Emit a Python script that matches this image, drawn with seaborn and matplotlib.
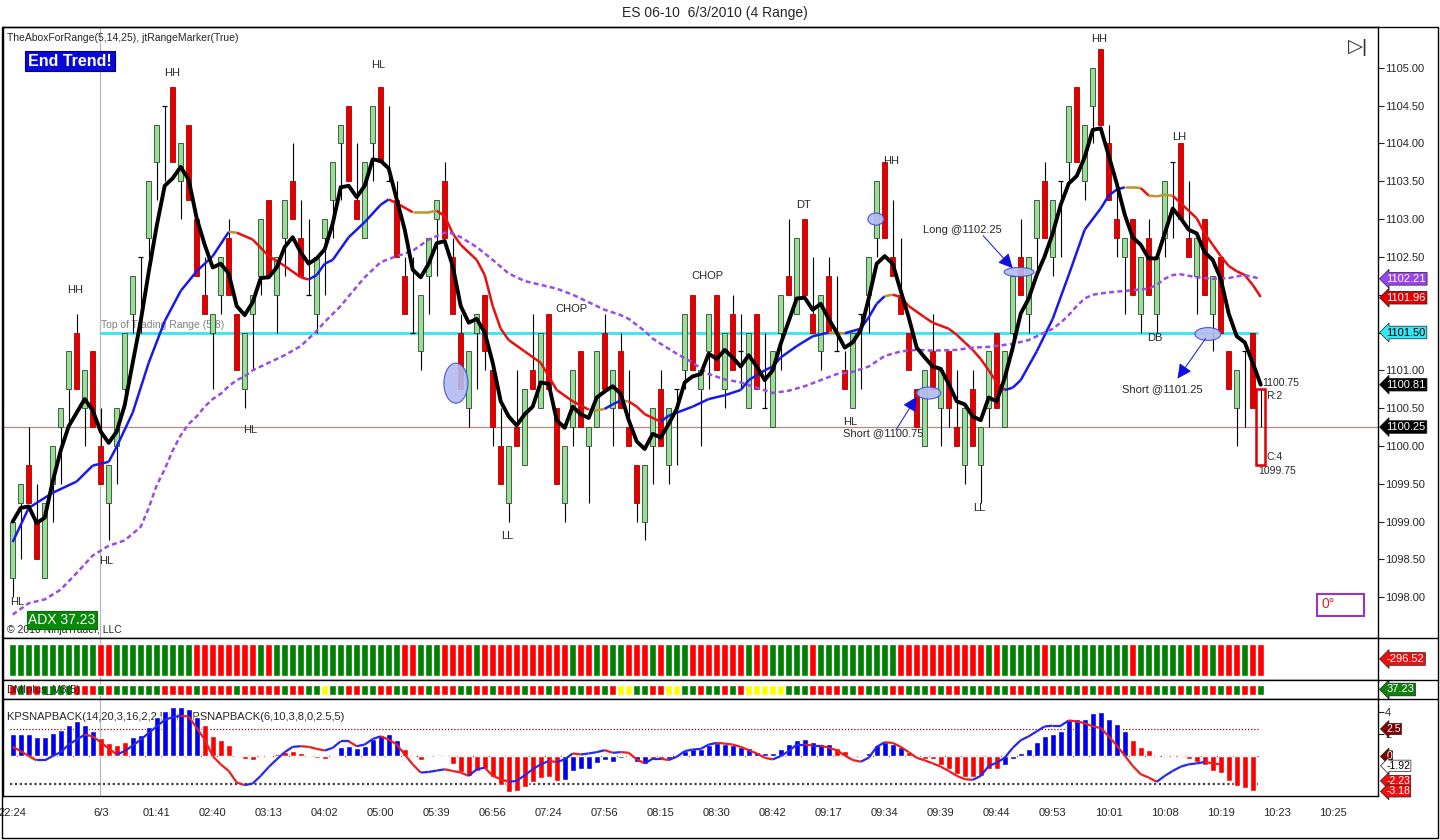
import numpy as np
import matplotlib
matplotlib.use("Agg")
import matplotlib.pyplot as plt
import seaborn as sns
from matplotlib.collections import LineCollection
from matplotlib.patches import Ellipse, Rectangle
from matplotlib.lines import Line2D

# ---------------- data ----------------
opens = [
    1098.25, 1099.25, 1099.75, 1099.00, 1098.25, 1099.50, 1100.25, 1100.75, 1101.50, 1100.50,
    1101.25, 1100.00, 1099.25, 1100.00, 1100.75, 1101.75, 1102.50, 1102.75, 1103.75, 1104.50,
    1104.75, 1103.50, 1104.25, 1103.00, 1102.00, 1101.50, 1102.00, 1102.75, 1101.75, 1100.75,
    1101.75, 1102.25, 1103.25, 1102.00, 1102.75, 1103.50, 1102.75, 1102.00, 1101.75, 1102.75,
    1103.25, 1104.00, 1104.50, 1103.25, 1102.75, 1104.00, 1104.75, 1103.50, 1103.25, 1102.25,
    1101.50, 1101.25, 1102.25, 1103.00, 1103.50, 1102.50, 1101.50, 1100.50, 1101.50, 1102.00,
    1101.00, 1100.00, 1099.25, 1100.25, 1099.75, 1101.00, 1100.50, 1101.75, 1100.50, 1099.25,
    1100.25, 1101.25, 1100.00, 1100.25, 1101.50, 1100.50, 1101.25, 1100.25, 1099.75, 1099.00,
    1100.00, 1100.75, 1099.75, 1100.75, 1101.00, 1102.00, 1100.75, 1101.25, 1102.00, 1100.75,
    1101.75, 1101.25, 1100.50, 1101.75, 1100.50, 1100.25, 1101.50, 1102.25, 1101.75, 1103.00,
    1101.75, 1101.25, 1102.25, 1101.25, 1101.00, 1100.50, 1101.75, 1102.00, 1102.75, 1103.75,
    1102.50, 1102.00, 1101.50, 1100.75, 1100.00, 1101.25, 1100.50, 1101.25, 1100.25, 1099.75,
    1100.75, 1099.75, 1100.50, 1101.50, 1100.25, 1101.50, 1102.50, 1101.75, 1102.75, 1103.50,
    1102.50, 1103.50, 1103.75, 1104.75, 1103.50, 1104.50, 1105.25, 1104.00, 1103.00, 1102.50,
    1103.00, 1101.75, 1102.75, 1101.75, 1102.75, 1103.75, 1104.00, 1102.75, 1102.25, 1103.00,
    1101.75, 1102.50, 1101.25, 1100.50, 1101.25, 1101.50, 1100.75,
]
highs = [
    1099.00, 1099.50, 1100.25, 1099.50, 1099.25, 1100.00, 1100.50, 1101.25, 1101.75, 1101.00,
    1101.25, 1100.50, 1099.75, 1100.50, 1101.50, 1102.25, 1102.50, 1103.50, 1104.25, 1104.50,
    1104.75, 1104.00, 1104.25, 1103.00, 1102.50, 1101.75, 1102.50, 1103.00, 1101.75, 1101.50,
    1102.00, 1103.00, 1103.25, 1102.50, 1103.25, 1104.00, 1103.25, 1103.00, 1102.50, 1103.00,
    1103.75, 1104.25, 1104.50, 1104.00, 1103.75, 1104.50, 1104.75, 1104.50, 1103.50, 1102.50,
    1102.50, 1102.00, 1102.75, 1103.25, 1103.75, 1102.75, 1101.75, 1101.25, 1101.75, 1102.00,
    1101.00, 1100.50, 1100.00, 1101.00, 1100.75, 1101.75, 1101.50, 1101.75, 1100.50, 1100.00,
    1101.00, 1101.25, 1100.25, 1101.25, 1101.75, 1101.00, 1101.50, 1101.00, 1099.75, 1099.75,
    1100.50, 1101.00, 1100.50, 1100.75, 1101.75, 1102.00, 1101.00, 1101.75, 1102.00, 1101.50,
    1102.00, 1101.75, 1101.50, 1101.75, 1101.50, 1101.25, 1102.00, 1103.00, 1102.75, 1103.00,
    1102.50, 1102.00, 1102.50, 1102.25, 1101.25, 1101.50, 1101.75, 1102.50, 1103.50, 1103.75,
    1103.25, 1102.75, 1101.50, 1100.75, 1101.00, 1101.75, 1101.00, 1101.25, 1101.00, 1100.50,
    1101.00, 1100.25, 1101.25, 1101.50, 1101.25, 1102.25, 1103.00, 1102.50, 1103.25, 1103.75,
    1103.25, 1103.50, 1104.50, 1104.75, 1104.25, 1105.00, 1105.25, 1104.25, 1103.50, 1102.75,
    1103.00, 1102.50, 1103.00, 1102.50, 1103.50, 1103.75, 1104.00, 1103.50, 1102.75, 1103.00,
    1102.25, 1102.50, 1101.25, 1101.00, 1101.25, 1101.50, 1100.75,
]
lows = [
    1098.00, 1098.50, 1099.25, 1098.50, 1098.25, 1099.00, 1099.50, 1100.25, 1100.75, 1100.00,
    1100.25, 1099.50, 1098.75, 1099.50, 1100.50, 1101.50, 1101.50, 1102.50, 1103.25, 1103.50,
    1103.75, 1103.00, 1103.25, 1102.25, 1101.75, 1100.75, 1101.75, 1102.00, 1101.00, 1100.50,
    1101.00, 1102.00, 1102.25, 1101.50, 1102.25, 1103.00, 1102.25, 1102.00, 1101.50, 1102.00,
    1102.75, 1103.25, 1103.50, 1103.00, 1102.75, 1103.50, 1103.75, 1103.50, 1102.50, 1101.75,
    1101.50, 1101.00, 1101.75, 1102.25, 1102.75, 1101.75, 1100.75, 1100.25, 1100.75, 1101.00,
    1100.00, 1099.50, 1099.00, 1100.00, 1099.75, 1100.75, 1100.50, 1100.75, 1099.50, 1099.00,
    1100.00, 1100.25, 1099.25, 1100.25, 1100.75, 1100.00, 1100.50, 1100.00, 1099.00, 1098.75,
    1099.50, 1100.00, 1099.50, 1099.75, 1100.75, 1101.00, 1100.00, 1100.75, 1101.00, 1100.50,
    1101.00, 1100.75, 1100.50, 1100.75, 1100.50, 1100.25, 1101.00, 1102.00, 1101.75, 1102.00,
    1101.50, 1101.00, 1101.50, 1101.25, 1100.75, 1100.50, 1100.75, 1101.50, 1102.50, 1102.75,
    1102.25, 1101.75, 1101.00, 1100.25, 1100.00, 1100.75, 1100.00, 1100.25, 1100.00, 1099.50,
    1100.00, 1099.25, 1100.25, 1100.50, 1100.25, 1101.25, 1102.00, 1101.50, 1102.25, 1102.75,
    1102.25, 1102.50, 1103.50, 1103.75, 1103.25, 1104.00, 1104.25, 1103.25, 1102.50, 1101.75,
    1102.00, 1101.50, 1102.00, 1101.50, 1102.50, 1102.75, 1103.00, 1102.50, 1101.75, 1102.00,
    1101.25, 1101.50, 1100.75, 1100.00, 1100.25, 1100.50, 1100.25,
]
closes = [
    1099.00, 1099.50, 1099.25, 1098.50, 1099.25, 1100.00, 1100.50, 1101.25, 1100.75, 1101.00,
    1100.25, 1099.50, 1099.75, 1100.50, 1101.50, 1102.25, 1102.50, 1103.50, 1104.25, 1104.50,
    1103.75, 1104.00, 1103.25, 1102.25, 1101.75, 1101.75, 1102.50, 1102.00, 1101.00, 1101.50,
    1102.00, 1103.00, 1102.25, 1102.50, 1103.25, 1103.00, 1102.25, 1102.00, 1102.50, 1103.00,
    1103.75, 1104.25, 1103.50, 1103.00, 1103.75, 1104.50, 1103.75, 1103.50, 1102.50, 1101.75,
    1101.50, 1102.00, 1102.75, 1103.25, 1102.75, 1101.75, 1100.75, 1101.25, 1101.75, 1101.25,
    1100.25, 1099.50, 1100.00, 1100.00, 1100.75, 1100.75, 1101.50, 1100.75, 1099.50, 1100.00,
    1101.00, 1100.25, 1100.25, 1101.25, 1100.75, 1101.00, 1100.50, 1100.00, 1099.25, 1099.75,
    1100.50, 1100.00, 1100.50, 1100.75, 1101.75, 1101.00, 1101.00, 1101.75, 1101.00, 1101.50,
    1101.00, 1101.25, 1101.50, 1100.75, 1100.50, 1101.25, 1102.00, 1102.00, 1102.75, 1102.00,
    1101.50, 1102.00, 1101.50, 1101.25, 1100.75, 1101.50, 1101.75, 1102.50, 1103.50, 1102.75,
    1102.25, 1101.75, 1101.00, 1100.25, 1101.00, 1100.75, 1101.00, 1100.50, 1100.00, 1100.50,
    1100.00, 1100.25, 1101.25, 1100.50, 1101.25, 1102.25, 1102.00, 1102.50, 1103.25, 1102.75,
    1103.25, 1103.50, 1104.50, 1103.75, 1104.25, 1105.00, 1104.25, 1103.25, 1102.75, 1102.75,
    1102.00, 1102.50, 1102.00, 1102.50, 1103.50, 1103.75, 1103.00, 1102.50, 1102.75, 1102.00,
    1102.25, 1101.50, 1100.75, 1101.00, 1101.25, 1100.50, 1100.25,
]

# fast average (black)
fast_ma = [
    1099.00, 1099.18, 1099.20, 1098.98, 1099.05, 1099.53, 1099.94, 1100.26, 1100.44, 1100.62,
    1100.47, 1100.19, 1100.04, 1100.19, 1100.54, 1101.10, 1101.65, 1102.30, 1102.91, 1103.44,
    1103.54, 1103.69, 1103.52, 1103.01, 1102.66, 1102.36, 1102.41, 1102.28, 1101.85, 1101.73,
    1101.90, 1102.22, 1102.23, 1102.36, 1102.63, 1102.76, 1102.56, 1102.41, 1102.48, 1102.60,
    1102.94, 1103.42, 1103.44, 1103.29, 1103.44, 1103.79, 1103.77, 1103.67, 1103.26, 1102.86,
    1102.33, 1102.23, 1102.41, 1102.68, 1102.71, 1102.38, 1101.85, 1101.63, 1101.68, 1101.50,
    1101.10, 1100.59, 1100.39, 1100.27, 1100.42, 1100.52, 1100.84, 1100.82, 1100.34, 1100.24,
    1100.52, 1100.42, 1100.37, 1100.64, 1100.72, 1100.79, 1100.69, 1100.34, 1100.06, 1099.96,
    1100.16, 1100.11, 1100.29, 1100.49, 1100.84, 1100.92, 1100.95, 1101.22, 1101.15, 1101.27,
    1101.17, 1101.05, 1101.20, 1101.05, 1100.87, 1101.00, 1101.35, 1101.65, 1101.95, 1101.96,
    1101.80, 1101.88, 1101.68, 1101.50, 1101.30, 1101.37, 1101.53, 1101.95, 1102.41, 1102.51,
    1102.41, 1102.05, 1101.70, 1101.30, 1101.17, 1101.05, 1101.02, 1100.82, 1100.59, 1100.55,
    1100.39, 1100.34, 1100.64, 1100.59, 1100.90, 1101.30, 1101.75, 1101.95, 1102.26, 1102.51,
    1102.81, 1103.19, 1103.47, 1103.57, 1103.82, 1104.18, 1104.20, 1103.84, 1103.47, 1103.06,
    1102.76, 1102.66, 1102.48, 1102.48, 1102.81, 1103.14, 1103.01, 1102.86, 1102.81, 1102.56,
    1102.46, 1102.21, 1101.75, 1101.45, 1101.37, 1101.10, 1100.81,
]

# trend average (blue rising / red falling)
trend_bars = [
    0, 2, 5, 8, 10, 12, 13, 15, 17, 19, 21, 23, 25, 27, 28, 30, 32, 34, 36, 37,
    38, 39, 40, 42, 44, 46, 47, 48, 50, 52, 53, 54, 55, 56, 58, 59, 60, 61, 62, 64,
    66, 67, 68, 70, 72, 73, 74, 75, 76, 77, 78, 79, 81, 82, 83, 85, 87, 89, 91, 92,
    94, 95, 96, 98, 100, 102, 104, 106, 107, 108, 109, 110, 111, 112, 114, 115, 117, 118, 119, 120,
    121, 122, 123, 124, 125, 126, 128, 130, 132, 134, 136, 137, 138, 139, 140, 141, 142, 143, 144, 145,
    146, 147, 148, 149, 150, 151, 152, 153, 154, 155, 156,
]
trend_ma = [
    1098.73, 1099.18, 1099.38, 1099.53, 1099.74, 1099.79, 1099.99, 1100.44, 1101.10, 1101.65,
    1102.05, 1102.31, 1102.51, 1102.83, 1102.82, 1102.73, 1102.51, 1102.38, 1102.23, 1102.20,
    1102.26, 1102.41, 1102.46, 1102.76, 1102.96, 1103.19, 1103.26, 1103.21, 1103.09, 1103.09,
    1103.11, 1103.04, 1102.81, 1102.66, 1102.46, 1102.26, 1101.85, 1101.55, 1101.40, 1101.25,
    1101.10, 1100.92, 1100.74, 1100.59, 1100.48, 1100.47, 1100.49, 1100.55, 1100.60, 1100.59,
    1100.52, 1100.42, 1100.32, 1100.40, 1100.44, 1100.52, 1100.62, 1100.67, 1100.74, 1100.87,
    1101.00, 1101.05, 1101.17, 1101.32, 1101.45, 1101.50, 1101.49, 1101.55, 1101.70, 1101.88,
    1101.98, 1102.00, 1101.97, 1101.85, 1101.70, 1101.63, 1101.55, 1101.47, 1101.37, 1101.27,
    1101.15, 1101.00, 1100.84, 1100.74, 1100.77, 1100.87, 1101.25, 1101.68, 1102.26, 1102.86,
    1103.14, 1103.31, 1103.39, 1103.42, 1103.42, 1103.41, 1103.31, 1103.30, 1103.32, 1103.31,
    1103.21, 1103.11, 1103.01, 1102.81, 1102.66, 1102.51, 1102.38, 1102.31, 1102.26, 1102.13,
    1101.97,
]

# slow average (purple dashed)
slow_bars = [
    0, 2, 4, 6, 8, 10, 12, 14, 16, 17, 18, 19, 20, 21, 22, 23, 24, 25, 26, 27,
    28, 29, 30, 32, 34, 36, 38, 39, 41, 42, 44, 46, 48, 50, 52, 54, 55, 56, 58, 60,
    62, 64, 66, 68, 70, 72, 74, 76, 77, 78, 79, 80, 81, 83, 85, 87, 89, 91, 93, 95,
    97, 99, 101, 103, 105, 107, 109, 111, 113, 115, 118, 120, 122, 125, 127, 128, 129, 130, 131, 132,
    133, 134, 135, 137, 139, 142, 143, 144, 145, 146, 148, 150, 152, 154, 156,
]
slow_ma = [
    1097.77, 1097.92, 1097.97, 1098.10, 1098.32, 1098.55, 1098.68, 1098.75, 1098.93, 1099.18,
    1099.48, 1099.69, 1099.94, 1100.14, 1100.29, 1100.39, 1100.52, 1100.62, 1100.69, 1100.79,
    1100.87, 1100.92, 1101.00, 1101.10, 1101.20, 1101.32, 1101.52, 1101.64, 1101.85, 1101.98,
    1102.23, 1102.43, 1102.51, 1102.58, 1102.73, 1102.82, 1102.81, 1102.76, 1102.63, 1102.46,
    1102.28, 1102.18, 1102.13, 1102.08, 1102.00, 1101.90, 1101.80, 1101.73, 1101.68, 1101.60,
    1101.52, 1101.42, 1101.35, 1101.22, 1101.10, 1100.95, 1100.88, 1100.84, 1100.77, 1100.70,
    1100.73, 1100.79, 1100.87, 1100.95, 1100.98, 1101.05, 1101.19, 1101.25, 1101.27, 1101.26,
    1101.27, 1101.30, 1101.31, 1101.35, 1101.40, 1101.45, 1101.50, 1101.55, 1101.63, 1101.73,
    1101.85, 1101.95, 1102.00, 1102.03, 1102.05, 1102.08, 1102.13, 1102.21, 1102.26, 1102.27,
    1102.23, 1102.21, 1102.22, 1102.26, 1102.21,
]

range_top = 1101.50          # "Top of Trading Range (5,8)"
last_trade = 1100.25         # thin horizontal line
range_box = (1099.75, 1100.75)

# trend colour strip (G green, R red)
trend_strip = (
    "GGGGGGGGGGG" "RR" "GGGGGGGGGG" "RRRRRRRR" "G" "R" "GGGGGGGGGGGGGGGG" "RR" "GGG"
    "RRRR" "G" "RRRRRRRRRRR" "G" "RR" "G" "R" "GG" "RRR" "G" "R" "GGG" "RRRRRRR" "G" "RR"
    "GGGGG" "R" "GGGGGGGGGG" "RRRRRRRRRRR" "G" "R" "GGGGG" "R" "GGGGGGGGGG" "R" "GGGGGG"
    "R" "G" "R" "G" "RRR" "G" "RR"
)
# DMIplus_V3 strip (G green, R red, Y yellow)
dmi_strip = (
    "RGRRGGGGRRRGRGGGGGGRRRRGRRRRGRRRRRGRRGG" "Y"
    "GGRRGGRRGGRRGRRRGGRRGRRRGRRGRRGGRRGR" "YY" "GGRR" "YY" "GGRGGRGR" "YYYYY"
    "GGGRRRRGGR" "GGGRRGGGRG" "RRGGGRGGRR" "GGRRRGGRGR" "RGRGRRGGGR" "GRGRGRGRRG"
)

# KPSNAPBACK histogram and line
kp_hist = [
    2.07, 2.07, 2.07, 1.77, 1.77, 2.13, 2.43, 2.88, 3.18, 2.88,
    2.34, 1.68, 1.23, 1.08, 1.32, 1.77, 1.98, 2.67, 3.57, 4.14,
    4.47, 4.47, 4.29, 3.57, 2.88, 1.89, 1.53, 1.08, 0.09, -0.27,
    -0.36, 0.00, 0.09, 0.18, 0.39, 0.48, 0.27, 0.09, -0.18, -0.21,
    0.09, 0.87, 0.93, 0.78, 0.99, 1.62, 1.98, 2.04, 1.53, 0.72,
    0.00, -0.33, -0.06, -0.06, -0.06, -0.72, -1.41, -1.77, -1.32, -1.17,
    -1.86, -2.61, -3.21, -3.12, -2.82, -2.31, -1.92, -1.86, -2.22, -2.13,
    -1.32, -1.17, -1.11, -0.63, -0.33, -0.51, -0.12, 0.00, -0.51, -0.72,
    -0.27, -0.27, -0.27, 0.00, 0.48, 0.69, 0.69, 1.08, 1.23, 1.17,
    1.08, 0.87, 0.78, 0.39, 0.33, 0.33, 0.72, 1.14, 1.53, 1.59,
    1.32, 1.14, 1.14, 0.78, 0.48, 0.09, 0.09, 0.33, 1.08, 1.32,
    1.14, 0.87, 0.42, 0.00, -0.21, -0.27, -0.81, -1.11, -1.62, -1.86,
    -1.86, -1.77, -1.11, -1.11, -0.81, -0.21, 0.33, 0.72, 1.32, 1.89,
    2.07, 2.34, 3.33, 3.39, 3.39, 3.93, 4.05, 3.39, 2.94, 2.34,
    1.53, 0.87, 0.54, 0.00, 0.00, 0.06, 0.00, -0.21, -0.51, -0.81,
    -1.32, -1.53, -2.22, -2.67, -2.91, -3.18,
]
kp_hist_colors = (
    "bbbbbbbbbbb" "rrrr" "bbbbbbbbb" "rrrrrrrrrrrrrrrr" "bbbbbbbbb" "rrrrrrrrrrrrrrrrrrrr"
    "bbbbbbbbbbb" "rr" "bbbbbbbbbbbbbbbbbbbbb" "rrrr" "bbbbb" "rrrrrrrrrrrr"
    "bbbbbbbbbbbbbbbb" "rrrrrrrrrrrrrrrr"
)
kp_line = [
    0.87, 0.48, 0.03, -0.36, -0.36, 0.03, 0.39, 1.08, 1.53, 1.98,
    1.83, 1.29, 0.72, 0.18, 0.48, 0.99, 1.53, 2.13, 2.73, 3.33,
    3.57, 3.69, 3.63, 2.58, 1.53, 0.03, -0.72, -1.32, -2.37, -2.61,
    -2.46, -1.77, -0.96, -0.27, 0.39, 0.87, 0.93, 0.87, 0.69, 0.54,
    0.78, 1.38, 1.38, 0.93, 1.08, 1.59, 1.83, 1.53, 1.08, 0.18,
    -0.72, -1.47, -1.41, -1.29, -1.17, -1.32, -1.47, -1.77, -1.17, -1.02,
    -1.77, -2.07, -2.31, -2.22, -1.71, -1.17, -0.72, -0.42, -0.51, -0.27,
    0.27, 0.18, 0.27, 0.39, 0.57, 0.33, 0.39, 0.33, -0.27, -0.63,
    -0.21, -0.21, -0.33, -0.03, 0.48, 0.63, 0.69, 1.08, 1.23, 1.17,
    1.08, 0.87, 0.57, 0.27, -0.12, -0.27, 0.03, 0.48, 1.08, 1.08,
    0.99, 0.99, 0.78, 0.57, 0.09, -0.33, -0.48, -0.12, 0.87, 1.29,
    1.23, 0.87, 0.39, -0.12, -0.36, -0.63, -0.93, -1.32, -1.77, -2.07,
    -2.13, -1.77, -0.87, -0.57, -0.12, 0.78, 1.47, 1.83, 2.28, 2.73,
    2.79, 2.79, 3.27, 3.18, 3.03, 2.73, 2.58, 1.83, 0.99, 0.09,
    -0.87, -1.62, -1.92, -2.31, -1.77, -1.32, -0.93, -0.72, -0.63, -0.51,
    -0.63, -0.72,
]
# right-hand indicator values: (label, level it is drawn at)
kp_flag_labels = ["2.5", "0", "-1.92", "-2.23", "-3.18"]
kp_flag_levels = [2.5, 0.0, -0.85, -2.23, -3.18]

time_tick_bars = [0, 7, 11, 18, 25, 32, 39, 46, 53, 60, 67, 74, 81, 88, 95, 102,
                  109, 116, 123, 130, 137, 144, 151, 158, 165]
time_tick_labels = ["22:24", "", "6/3", "01:41", "02:40", "03:13", "04:02", "05:00",
                    "05:39", "06:56", "07:24", "07:56", "08:15", "08:30", "08:42",
                    "09:17", "09:34", "09:39", "09:44", "09:53", "10:01", "10:08",
                    "10:19", "10:23", "10:25"]
price_ticks = [1098.0, 1098.5, 1099.0, 1099.5, 1100.0, 1100.5, 1101.0, 1101.5,
               1102.0, 1102.5, 1103.0, 1103.5, 1104.0, 1104.5, 1105.0]
session_bar = 11  # 6/3 separator

# swing labels: (text, bar, price)
swing_labels = [
    ("HL", 0.5, 1097.93), ("HH", 7.8, 1102.06), ("HL", 11.7, 1098.48),
    ("HH", 19.9, 1104.93), ("HL", 29.7, 1100.21), ("HL", 45.7, 1105.04),
    ("LL", 61.8, 1098.81), ("CHOP", 69.8, 1101.81), ("CHOP", 86.8, 1102.25),
    ("DT", 98.9, 1103.19), ("HH", 109.8, 1103.77), ("HL", 104.7, 1100.32),
    ("LL", 120.8, 1099.18), ("HH", 135.8, 1105.38), ("LH", 145.8, 1104.09),
    ("DB", 142.8, 1101.43),
]
# trade notes: (text, text bar, text price)
trade_notes = [
    ("Long @1102.25", 118.7, 1102.86),
    ("Short @1100.75", 108.8, 1100.17),
    ("Short @1101.25", 143.7, 1100.75),
]
# trade arrows: (tail bar, tail price, tip bar, tip price)
trade_arrows = [
    (121.3, 1102.78, 125.0, 1102.35),
    (110.4, 1100.21, 113.0, 1100.65),
    (149.1, 1101.42, 145.6, 1100.89),
]
# highlight ellipses: (bar, price, width in bars, height in points)
marks = [(55.4, 1100.83, 3.0, 0.53), (107.9, 1103.0, 2.0, 0.16),
         (125.8, 1102.30, 3.75, 0.12), (114.5, 1100.70, 3.0, 0.16),
         (149.4, 1101.48, 3.25, 0.17)]

# ---------------- figure ----------------
sns.set_style("white")
plt.rcParams['font.family'] = ['Liberation Sans', 'DejaVu Sans']

W, H = 1440, 840
fig = plt.figure(figsize=(W / 100, H / 100), dpi=100)


def rect(x0, y0, x1, y1):
    return [x0 / W, 1 - y1 / H, (x1 - x0) / W, (y1 - y0) / H]


ax = fig.add_axes(rect(3, 27, 1378, 638))
p1 = fig.add_axes(rect(3, 638, 1378, 680))
p2 = fig.add_axes(rect(3, 680, 1378, 699))
p3 = fig.add_axes(rect(3, 699, 1378, 796))
xlim = (-1.2125, 170.66)
for a in (ax, p1, p2, p3):
    a.set_xlim(*xlim)
    for s in a.spines.values():
        s.set_color('black')
        s.set_linewidth(1.0)
    a.axvline(session_bar - 0.05, color='#b8b8b8', lw=0.9, zorder=0)

n = len(closes)
idx = np.arange(n)
o = np.array(opens)
c = np.array(closes)

# main panel
ax.set_ylim(1097.46, 1105.54)
ax.axhline(last_trade, color='#b48a8a', lw=0.9, zorder=1)
ax.hlines(range_top, session_bar - 0.05, 155.6, color='#33e6f2', lw=2.0, zorder=1)
ax.text(session_bar, range_top + 0.03, "Top of Trading Range (5,8)", color='#808080',
        fontsize=7.5, ha='left', va='bottom', zorder=1)

ax.vlines(idx, lows, highs, color='black', lw=0.8, zorder=2)
for i in range(n - 1):
    if o[i] == c[i]:
        ax.hlines(o[i], i - 0.3, i + 0.3, color='black', lw=0.9, zorder=3)
        continue
    up = c[i] > o[i]
    ax.bar(i, abs(c[i] - o[i]), bottom=min(o[i], c[i]), width=0.62,
           color='#98dd98' if up else '#e00000',
           edgecolor='#2a4a2a' if up else '#b00000', linewidth=0.6, zorder=3)
ax.add_patch(Rectangle((n - 1 - 0.55, range_box[0]), 1.1, range_box[1] - range_box[0],
                       fill=False, edgecolor='#e00000', lw=1.8, zorder=4))

# averages
pts = np.column_stack([trend_bars, trend_ma])
segs = np.stack([pts[:-1], pts[1:]], axis=1)
slope = np.diff(trend_ma) / np.diff(trend_bars)
seg_cols = np.where(slope > 0.02, '#1a1ae6', np.where(slope < -0.02, '#e81010', '#b8962a'))
ax.add_collection(LineCollection(segs, colors=seg_cols, linewidths=1.8, zorder=5))

sns.lineplot(x=slow_bars, y=slow_ma, ax=ax, color='#9b4de3', lw=1.8, zorder=5)
ax.lines[-1].set_dashes([2.0, 1.3])
sns.lineplot(x=idx, y=fast_ma, ax=ax, color='black', lw=2.8, zorder=6)

for e in marks:
    ax.add_patch(Ellipse((e[0], e[1]), e[2], e[3], facecolor='#b4bcf0', edgecolor='#3a4ad8',
                         lw=0.8, alpha=0.9, zorder=7))

for txt, bx, py in swing_labels:
    ax.text(bx, py, txt, fontsize=8, ha='center', va='center', zorder=8)
for txt, bx, py in trade_notes:
    ax.text(bx, py, txt, fontsize=8, ha='center', va='center', zorder=8)
for tbx, tpy, hbx, hpy in trade_arrows:
    ax.annotate("", xy=(hbx, hpy), xytext=(tbx, tpy),
                arrowprops=dict(arrowstyle='-|>', color='#1010e0', lw=0.7,
                                mutation_scale=22, shrinkA=0, shrinkB=0), zorder=8)

ax.text(156.2, 1100.83, "1100.75", fontsize=7.5, ha='left', va='center')
ax.text(156.7, 1100.66, "R:2", fontsize=7.5, ha='left', va='center')
ax.text(156.7, 1099.85, "C:4", fontsize=7.5, ha='left', va='center')
ax.text(155.7, 1099.67, "1099.75", fontsize=7.5, ha='left', va='center')

ax.set_xticks([])
ax.yaxis.tick_right()
ax.set_yticks(price_ticks)
ax.set_yticklabels([f"{p:.2f}" for p in price_ticks])
ax.tick_params(axis='y', labelsize=8, length=4, width=0.8, pad=1, direction='out', right=True)
ax.set_xlabel("")
ax.set_ylabel("")

price_flags = [(1102.21, '#9944ee', 'white'), (1101.96, '#e00000', 'white'),
               (1101.50, '#33e6f2', 'black'), (1100.81, 'black', 'white'),
               (1100.25, 'black', 'white')]
for val, fc, tc in price_flags:
    ax.text(1.006, val, f"{val:.2f}", transform=ax.get_yaxis_transform(), fontsize=8,
            color=tc, ha='left', va='center', zorder=10, clip_on=False,
            bbox=dict(boxstyle='larrow,pad=0.12', fc=fc, ec='#202020', lw=0.5))

# panel 1: trend strip
strip_col = {'G': '#008000', 'R': '#ff0000', 'Y': '#ffff00'}
p1.set_ylim(0, 1)
p1.bar(np.arange(len(trend_strip)), 0.762, bottom=0.095, width=0.86,
       color=[strip_col[k] for k in trend_strip])
p1.set_xticks([]); p1.set_yticks([])
p1.text(1.006, 0.5, "-296.52", transform=p1.transAxes, fontsize=8, color='white',
        va='center', ha='left', clip_on=False,
        bbox=dict(boxstyle='larrow,pad=0.12', fc='#ee1010', ec='#202020', lw=0.5))

# panel 2: DMIplus strip
p2.set_ylim(0, 1)
p2.bar(np.arange(len(dmi_strip)), 0.53, bottom=0.21, width=0.86,
       color=[strip_col[k] for k in dmi_strip])
p2.set_xticks([]); p2.set_yticks([])
p2.text(1.006, 0.5, "37.23", transform=p2.transAxes, fontsize=8, color='white',
        va='center', ha='left', clip_on=False,
        bbox=dict(boxstyle='larrow,pad=0.12', fc='#108010', ec='#202020', lw=0.5))

# panel 3: KPSNAPBACK
p3.set_ylim(-3.60, 5.225)
p3.text(7 / W, 1 - 717 / H, "KPSNAPBACK(14,20,3,16,2,2.5,5), KPSNAPBACK(6,10,3,8,0,2.5,5)",
        transform=fig.transFigure, fontsize=8, ha='left', va='center', zorder=0)
p3.hlines([2.5, 0.0], -0.4, 155.6, colors='#800000', linestyles=(0, (1, 1.5)), lw=0.9, zorder=1)
p3.hlines(-2.5, -0.4, 155.6, colors='#404040', linestyles=(0, (1, 1.2)), lw=1.6, zorder=1)
hist_col = {'b': '#0000f0', 'r': '#ff0000'}
p3.bar(np.arange(len(kp_hist)), kp_hist, width=0.72,
       color=[hist_col[k] for k in kp_hist_colors], zorder=2)
kp_x = np.arange(len(kp_line))
kpts = np.column_stack([kp_x, kp_line])
ksegs = np.stack([kpts[:-1], kpts[1:]], axis=1)
kcols = np.where(np.diff(kp_line) >= 0, '#2828e8', '#e82020')
p3.add_collection(LineCollection(ksegs, colors=kcols, linewidths=1.6, zorder=3))

p3.yaxis.tick_right()
p3.set_yticks([4, 2])
p3.set_yticklabels(["4", "2"])
p3.tick_params(axis='y', labelsize=8, length=4, width=0.8, pad=1, direction='out')
p3.set_xticks(time_tick_bars)
p3.set_xticklabels(time_tick_labels)
p3.tick_params(axis='x', labelsize=8, length=6, width=0.8, pad=3, direction='out')

kp_flag_style = [('#800000', 'white'), ('#800000', 'white'), ('white', 'black'),
                 ('#ee1010', 'white'), ('#ee1010', 'white')]
for lbl, lev, (fc, tc) in zip(kp_flag_labels, kp_flag_levels, kp_flag_style):
    p3.text(1.006, lev, lbl, transform=p3.get_yaxis_transform(), fontsize=7.5, color=tc,
            ha='left', va='center', clip_on=False, zorder=10,
            bbox=dict(boxstyle='larrow,pad=0.06', fc=fc, ec='#202020', lw=0.5))

# chrome and captions
for yy in (638, 680, 699):
    fig.add_artist(Line2D([1378 / W, 1438 / W], [1 - yy / H, 1 - yy / H], color='black', lw=1.0))
fig.add_artist(Rectangle((2 / W, 1 - 838 / H), 1436 / W, 811 / H, transform=fig.transFigure,
                         fill=False, ec='black', lw=1.0))

fig.text(715 / W, 1 - 13 / H, "ES 06-10  6/3/2010 (4 Range)", fontsize=10, ha='center', va='center')
fig.text(7 / W, 1 - 38 / H, "TheAboxForRange(5,14,25), jtRangeMarker(True)", fontsize=7.5,
         ha='left', va='center')
fig.text(70 / W, 1 - 61 / H, "End Trend!", fontsize=11.5, fontweight='bold', color='white',
         ha='center', va='center',
         bbox=dict(boxstyle='square,pad=0.18', fc='#0a0ad8', ec='#000080', lw=0.8))
fig.text(7 / W, 1 - 630 / H, "\u00a9 2010 NinjaTrader, LLC", fontsize=7.5, ha='left', va='center')
fig.text(62 / W, 1 - 620 / H, "ADX 37.23", fontsize=10, color='white', ha='center', va='center',
         bbox=dict(boxstyle='square,pad=0.12', fc='#0a8a0a', ec='#0a6a0a', lw=0.8))
fig.text(6 / W, 1 - 690 / H, "DMIplus_V3(5)", fontsize=8, ha='left', va='center')
fig.text(1358 / W, 1 - 47 / H, "\u25b7|", fontsize=14, color='#303030', ha='center', va='center')
fig.add_artist(Rectangle((1317 / W, 1 - 616 / H), 47 / W, 22 / H, transform=fig.transFigure,
                         fill=False, ec='#9933cc', lw=1.5))
fig.text(1322 / W, 1 - 604 / H, "0\u00b0", fontsize=10, color='#e02020', ha='left', va='center')

fig.savefig("out.png", dpi=100)
